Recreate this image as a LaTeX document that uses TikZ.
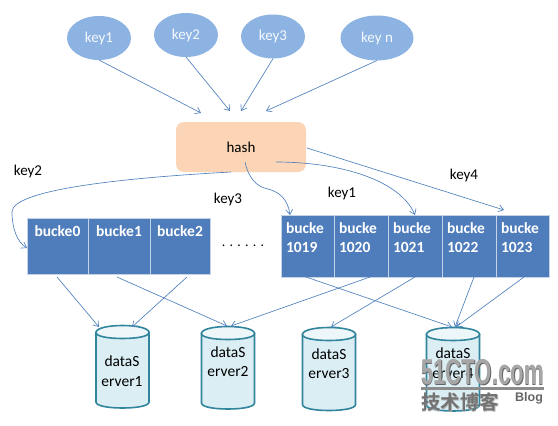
\documentclass[tikz,border=0pt]{standalone}
\usepackage{fontspec}
\setmainfont{Carlito}
\newfontfamily\wmfont{Liberation Sans}
\newfontfamily\cjkwm{Noto Sans CJK SC}[BoldFont=Noto Sans CJK SC Bold]
\usetikzlibrary{shapes.geometric,arrows.meta}
\definecolor{keyblue}{HTML}{8DB3E2}
\definecolor{hashfill}{HTML}{FBD5B5}
\definecolor{buckblue}{HTML}{4F7DBB}
\definecolor{lineblue}{HTML}{4F81BD}
\definecolor{cylfill}{HTML}{DBEEF4}
\definecolor{cyltop}{HTML}{EDF6F9}
\definecolor{cyldraw}{HTML}{31859C}
\definecolor{divline}{HTML}{C5D3E8}
\newcommand{\cyl}[5]{% name, cx, top y, bottom y, text y
  \node[minimum width=55pt,minimum height={#4-#3},anchor=north] (#1) at (#2,#3) {};
  \path[fill=cylfill,draw=cyldraw,line width=1.6pt]
    (#2-26.5,#3+7) -- (#2-26.5,#4-6)
    .. controls (#2-26.5,#4-2) and (#2-14,#4) .. (#2,#4)
    .. controls (#2+14,#4) and (#2+26.5,#4-2) .. (#2+26.5,#4-6)
    -- (#2+26.5,#3+7) -- cycle;
  \path[fill=cyltop,draw=cyldraw,line width=1.6pt]
    (#2-26.5,#3+7)
    .. controls (#2-26.5,#3+2.5) and (#2-14,#3) .. (#2,#3)
    .. controls (#2+14,#3) and (#2+26.5,#3+2.5) .. (#2+26.5,#3+7)
    .. controls (#2+26.5,#3+11) and (#2+14,#3+13) .. (#2,#3+13)
    .. controls (#2-14,#3+13) and (#2-26.5,#3+11) .. (#2-26.5,#3+7) -- cycle;
}
\tikzset{
  x=1pt,y=-1pt,
  every node/.style={inner sep=0pt,outer sep=0pt},
  keynode/.style={ellipse,fill=keyblue,text=white!92!keyblue,font=\fontsize{15}{17}\selectfont},
  hashnode/.style={rectangle,rounded corners=8pt,fill=hashfill,minimum width=130pt,minimum height=50pt,font=\fontsize{15}{17}\selectfont},
  lbl/.style={font=\fontsize{15}{17}\selectfont,text=black},
  bucketcell/.style={rectangle,fill=buckblue,draw=divline,line width=.7pt},
  bucketlabel/.style={text=white,font=\fontsize{15.5}{19}\selectfont\bfseries},
  srvtext/.style={align=center,font=\fontsize{15.5}{19.5}\selectfont,text=black},
  conn/.style={draw=lineblue,line width=.65pt,-{Straight Barb[length=5pt,width=7pt]}},
  wm/.style={font=\wmfont\bfseries\fontsize{36}{36}\selectfont},
  wmb/.style={font=\wmfont\bfseries\fontsize{12.5}{13}\selectfont},
  wmc/.style={font=\cjkwm\bfseries\fontsize{19.5}{20}\selectfont},
}
\begin{document}
\begin{tikzpicture}
\useasboundingbox (0,0) rectangle (558,426);
\fill[white] (0,0) rectangle (558,426);
% keys
\node[keynode,minimum width=64pt,minimum height=44pt] (k1) at (99,38) {key1};
\node[keynode,minimum width=64pt,minimum height=44pt] (k2) at (186,35) {key2};
\node[keynode,minimum width=64pt,minimum height=44pt] (k3) at (273,36.5) {key3};
\node[keynode,minimum width=73pt,minimum height=45pt] (kn) at (377,38) {key n};
\node[hashnode] (hash) at (241,147) {hash};
% free ends
\coordinate (h1) at (201,113);
\coordinate (h2) at (230,111);
\coordinate (h3) at (241,111);
\coordinate (h4) at (266,111);
\draw[conn] (k1.south) -- (h1);
\draw[conn] (k2.south) -- (h2);
\draw[conn] (k3.south) -- (h3);
\draw[conn] (kn.south) -- (h4);
% labels
\node[lbl] (lk2) at (28,171) {key2};
\node[lbl] (lk3) at (228,199) {key3};
\node[lbl] (lk1) at (342,193) {key1};
\node[lbl] (lk4) at (464,175) {key4};
% left buckets
\foreach \n/\a/\b/\t in {b0/27/88/bucke0,b1/88/150/bucke1,b2/150/210/bucke2}{
  \node[bucketcell,minimum width={\b-\a},minimum height=56pt,anchor=north west] (\n) at (\a,218) {};
  \node[bucketlabel] (\n t) at ({(\a+\b)/2},231) {\t};
}
\node[lbl,font=\fontsize{14}{15}\selectfont] (dots) at (243,246) {. . . . . .};
% right buckets
\foreach \n/\a/\b/\t in {b19/281/334/1019,b20/334/388/1020,b21/388/442/1021,b22/442/496/1022,b23/496/549/1023}{
  \node[bucketcell,minimum width={\b-\a},minimum height=62pt,anchor=north west] (\n) at (\a,215) {};
  \node[bucketlabel,align=left,anchor=north west] (\n t) at (\a+5,223) {bucke\\\t};
}
% hash out connectors
\coordinate (t19) at (290,215);
\coordinate (t21) at (415,215);
\coordinate (t23) at (504,210);
\coordinate (s2) at (231,172);
\coordinate (s3) at (245,162);
\coordinate (s1) at (276,162);
\coordinate (s4) at (307,148);
\coordinate (t0) at (27,248);
\draw[conn] (s2) .. controls (120,178) and (12,190) .. (12,212) .. controls (12,228) and (17,242) .. (t0);
\draw[conn] (s3) .. controls (249,180) and (258,187) .. (268,189) .. controls (280,192) and (288,200) .. (t19);
\draw[conn] (s1) .. controls (340,162) and (400,180) .. (t21);
\draw[conn] (s4) -- (t23);
% cylinders
\cyl{c1}{122.5}{325.5}{408}{}
\cyl{c2}{228}{326.5}{409}{}
\cyl{c3}{329}{327.5}{410.5}{}
\cyl{c4}{453}{327.5}{411}{}
\node[srvtext] (c1t) at (122,371) {dataS\\erver1};
\node[srvtext] (c2t) at (228,361.5) {dataS\\erver2};
\node[srvtext] (c3t) at (329,363.5) {dataS\\erver3};
\node[srvtext] (c4t) at (453,363) {dataS\\erver4};
% lower connectors
\coordinate (i1a) at (99,327);
\coordinate (i1b) at (132,327);
\coordinate (i2a) at (227,326);
\coordinate (i2b) at (231,326);
\coordinate (i3) at (331,327);
\coordinate (i4a) at (452,327);
\coordinate (i4b) at (455,327);
\coordinate (i4c) at (456,327);
\coordinate (o0) at (57,277);
\coordinate (o1) at (117,277);
\coordinate (o2) at (187,277);
\coordinate (o19) at (306,277);
\coordinate (o20) at (370,277);
\coordinate (o21) at (415,277);
\coordinate (o22) at (474,277);
\coordinate (o23) at (524,277);
\draw[conn] (o0) -- (i1a);
\draw[conn] (o2) -- (i1b);
\draw[conn] (o1) -- (i2a);
\draw[conn] (o20) -- (i2b);
\draw[conn] (o21) -- (i3);
\draw[conn] (o19) -- (i4a);
\draw[conn] (o22) -- (i4b);
\draw[conn] (o23) -- (i4c);
% watermark
\node[wm,text=black!60] (wm1s) at (483.3,373.5) {\scalebox{.615}[1]{51CTO.com}};
\node[wm,text=black!35] (wm1) at (482.5,372.5) {\scalebox{.615}[1]{51CTO.com}};
\fill[black!45] (421,387) rectangle (544,390);
\node[wmc,text=black!30] (wm2s) at (460.8,403) {技术博客};
\node[wmc,text=black!55] (wm2) at (460,402) {技术博客};
\node[wmb,text=black!60] (wm3) at (529,398.5) {Blog};
\end{tikzpicture}
\end{document}
